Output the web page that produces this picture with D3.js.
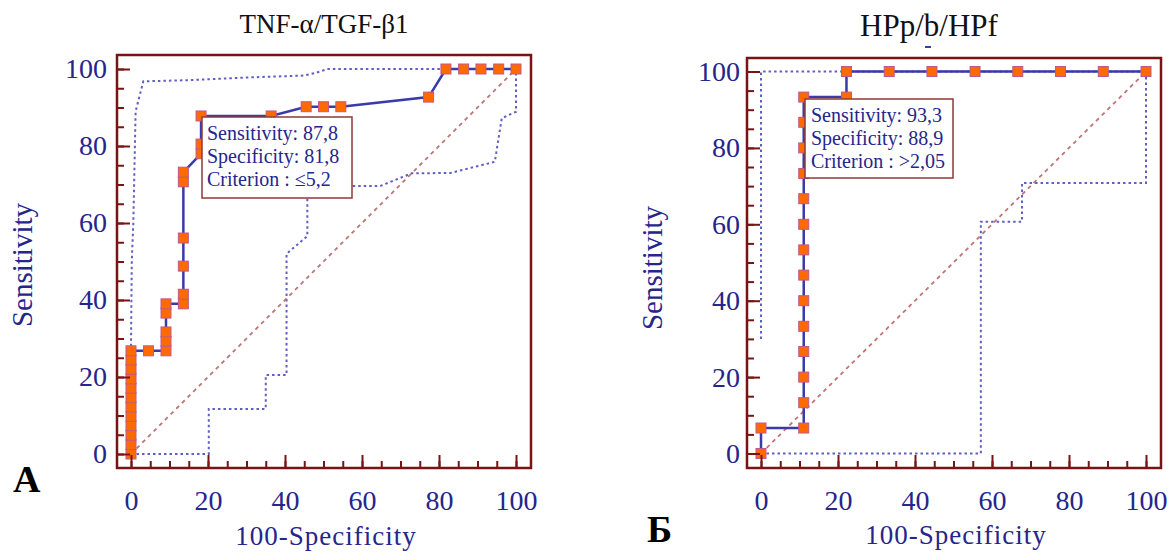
<!DOCTYPE html>
<html>
<head>
<meta charset="utf-8">
<script src="https://cdn.jsdelivr.net/npm/d3@7"></script>
<style>
  body { margin: 0; background: #fff; }
  svg { display: block; }
</style>
</head>
<body>
<div id="roc"></div>
<script>
// ---- data ----
var titles = ["TNF-\u03b1/TGF-\u03b21", "HPp/b/HPf"];
var panelLetters = ["A", "\u0411"];
var majorTicks = [0, 20, 40, 60, 80, 100];
var minorTicks = d3.range(0, 101, 5);

// panel A: ROC curve (100-Specificity, Sensitivity)
var rocA = [
  [0, 0], [0, 2.44], [0, 4.88], [0, 7.32], [0, 9.76], [0, 12.2], [0, 14.6], [0, 17.1],
  [0, 19.5], [0, 22.0], [0, 24.4], [0, 26.8],
  [4.55, 26.8],
  [9.09, 26.8], [9.09, 29.3], [9.09, 31.7], [9.09, 36.6], [9.09, 39.0],
  [13.6, 39.0], [13.6, 41.5], [13.6, 48.8], [13.6, 56.1], [13.6, 70.7], [13.6, 73.2],
  [18.2, 78.0], [18.2, 80.5], [18.2, 87.8],
  [36.4, 87.8],
  [45.5, 90.2], [50.0, 90.2], [54.5, 90.2],
  [77.3, 92.7],
  [81.8, 100], [86.4, 100], [90.9, 100], [95.5, 100], [100, 100]
];
var upperA = [
  [0, 28], [0.2, 50], [0.6, 60], [1.2, 89], [3.2, 96.8], [15, 97.1], [30, 97.8],
  [45, 98.3], [48, 99], [51, 100], [100, 100]
];
var lowerA = [
  [0, 0], [20.2, 0], [20.2, 11.7], [35, 11.7], [35, 20.5], [40.4, 20.5], [40.4, 52],
  [45.8, 56.6], [45.8, 69.6], [64.7, 69.6], [72.9, 72.9], [83, 73], [94.5, 75.9],
  [96.3, 87.2], [100, 88.9], [100, 100]
];
var infoA = ["Sensitivity: 87,8", "Specificity: 81,8", "Criterion : \u22645,2"];

// panel B
var rocB = [
  [0, 0], [0, 6.67],
  [11.1, 6.67], [11.1, 13.3], [11.1, 20], [11.1, 26.7], [11.1, 33.3], [11.1, 40],
  [11.1, 46.7], [11.1, 53.3], [11.1, 60], [11.1, 66.7], [11.1, 73.3], [11.1, 80],
  [11.1, 86.7], [11.1, 93.3],
  [22.2, 93.3], [22.2, 100],
  [33.3, 100], [44.4, 100], [55.6, 100], [66.7, 100], [77.8, 100], [88.9, 100], [100, 100]
];
var upperB = [[0, 30], [0, 100], [100, 100]];
var lowerB = [
  [0, 0], [57.1, 0], [57.1, 60.7], [67.8, 60.7], [67.8, 70.8], [100, 70.8], [100, 100]
];
var infoB = ["Sensitivity: 93,3", "Specificity: 88,9", "Criterion : >2,05"];

// ---- page ----
var W = 1171, H = 552;
var serif = "'Liberation Serif', 'Times New Roman', serif";
var navy = "#25258c";
var frameColor = "#7a1414";

var svg = d3.select("#roc")
  .append("svg")
  .attr("width", W)
  .attr("height", H);

// geometry of the two panels
var panels = [
  { roc: rocA, upper: upperA, lower: lowerA, info: infoA,
    x0: 131, x1: 516, y0: 454, y1: 69,
    frame: [117, 55, 531, 468], labelPad: 10,
    box: [202, 117, 150, 81], boxText: [207, 140],
    title: [324, 33, 27], xTitle: [326, 545], yTitle: [32, 265],
    letter: [13, 492] },
  { roc: rocB, upper: upperB, lower: lowerB, info: infoB,
    x0: 761, x1: 1146, y0: 453.5, y1: 71.5,
    frame: [747, 58, 1161, 468], labelPad: 7,
    box: [805, 99, 148, 79], boxText: [811, 122],
    title: [929, 36, 31], xTitle: [956, 544], yTitle: [662, 268],
    letter: [647, 542] }
];

panels.forEach(function (p, i) {
  var g = svg.append("g");

  var x = d3.scaleLinear().domain([0, 100]).range([p.x0, p.x1]);
  var y = d3.scaleLinear().domain([0, 100]).range([p.y0, p.y1]);

  var line = d3.line()
    .x(function (d) { return x(d[0]); })
    .y(function (d) { return y(d[1]); });

  // confidence bounds (dotted)
  [p.upper, p.lower].forEach(function (b) {
    g.append("path")
      .datum(b)
      .attr("d", line)
      .attr("fill", "none")
      .attr("stroke", "#5f5fc0")
      .attr("stroke-width", 2)
      .attr("stroke-dasharray", "2.5,3");
  });

  // reference diagonal
  g.append("path")
    .datum([[0, 0], [100, 100]])
    .attr("d", line)
    .attr("fill", "none")
    .attr("stroke", "#c27373")
    .attr("stroke-width", 1.8)
    .attr("stroke-dasharray", "4,4");

  // ROC curve
  g.append("path")
    .datum(p.roc)
    .attr("d", line)
    .attr("fill", "none")
    .attr("stroke", "#3a3aa8")
    .attr("stroke-width", 2.5);

  g.selectAll("rect.pt")
    .data(p.roc)
    .enter().append("rect")
    .attr("class", "pt")
    .attr("x", function (d) { return x(d[0]) - 5; })
    .attr("y", function (d) { return y(d[1]) - 5; })
    .attr("width", 10)
    .attr("height", 10)
    .attr("fill", "#ff6a00")
    .attr("stroke", "#c0588c")
    .attr("stroke-width", 1);

  // frame
  var f = p.frame;
  g.append("rect")
    .attr("x", f[0]).attr("y", f[1])
    .attr("width", f[2] - f[0]).attr("height", f[3] - f[1])
    .attr("fill", "none")
    .attr("stroke", frameColor)
    .attr("stroke-width", 2.5);

  // minor ticks (inward)
  var yMinor = g.append("g")
    .attr("transform", "translate(" + f[0] + ",0)")
    .call(d3.axisLeft(y).tickValues(minorTicks).tickSize(-7).tickFormat(""));
  var xMinor = g.append("g")
    .attr("transform", "translate(0," + f[3] + ")")
    .call(d3.axisBottom(x).tickValues(minorTicks).tickSize(-7).tickFormat(""));

  // major ticks with labels
  var yAxis = g.append("g")
    .attr("transform", "translate(" + f[0] + ",0)")
    .call(d3.axisLeft(y).tickValues(majorTicks).tickSize(-13).tickPadding(p.labelPad));
  var xAxis = g.append("g")
    .attr("transform", "translate(0," + f[3] + ")")
    .call(d3.axisBottom(x).tickValues(majorTicks).tickSize(-13).tickPadding(22));

  [yMinor, xMinor, yAxis, xAxis].forEach(function (a) {
    a.select(".domain").remove();
    a.selectAll("line").attr("stroke", frameColor).attr("stroke-width", 2);
    a.selectAll("text")
      .attr("fill", navy)
      .style("font-family", serif)
      .style("font-size", "28px");
  });

  // info box
  var b = p.box;
  g.append("rect")
    .attr("x", b[0]).attr("y", b[1])
    .attr("width", b[2]).attr("height", b[3])
    .attr("fill", "#fff")
    .attr("stroke", "#8e3a3a")
    .attr("stroke-width", 1.5);
  p.info.forEach(function (t, k) {
    g.append("text")
      .attr("x", p.boxText[0])
      .attr("y", p.boxText[1] + k * 23)
      .text(t)
      .attr("fill", navy)
      .style("font-family", serif)
      .style("font-size", "20px");
  });

  // titles
  g.append("text")
    .attr("x", p.title[0]).attr("y", p.title[1])
    .attr("text-anchor", "middle")
    .text(titles[i])
    .attr("fill", "#111")
    .style("font-family", serif)
    .style("font-size", p.title[2] + "px");

  g.append("text")
    .attr("x", p.xTitle[0]).attr("y", p.xTitle[1])
    .attr("text-anchor", "middle")
    .text("100-Specificity")
    .attr("fill", navy)
    .style("font-family", serif)
    .style("font-size", "27px")
    .style("letter-spacing", "1px");

  g.append("text")
    .attr("transform", "translate(" + p.yTitle[0] + "," + p.yTitle[1] + ") rotate(-90)")
    .attr("text-anchor", "middle")
    .text("Sensitivity")
    .attr("fill", navy)
    .style("font-family", serif)
    .style("font-size", "29px");

  g.append("text")
    .attr("x", p.letter[0]).attr("y", p.letter[1])
    .text(panelLetters[i])
    .attr("fill", "#000")
    .style("font-family", serif)
    .style("font-weight", "bold")
    .style("font-size", "38px");
});

// small stray mark under the second title
svg.append("rect")
  .attr("x", 925).attr("y", 46).attr("width", 6).attr("height", 2)
  .attr("fill", "#3a3aa0");
</script>
</body>
</html>
